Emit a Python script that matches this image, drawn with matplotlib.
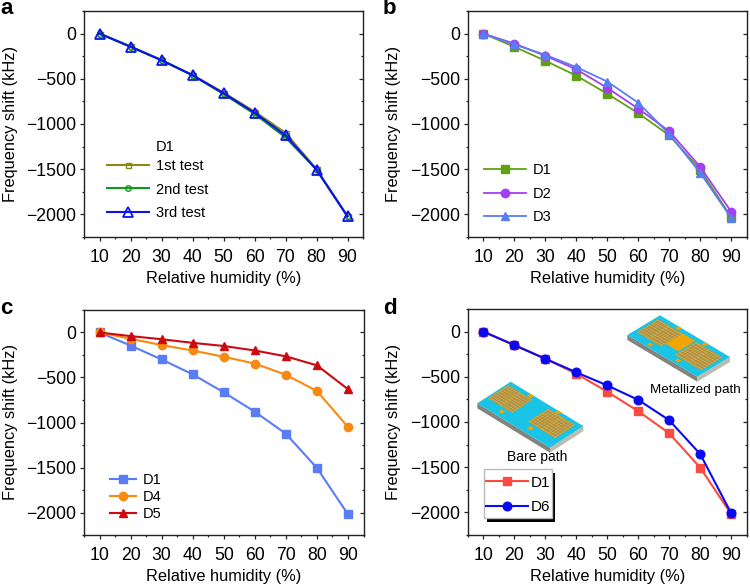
import matplotlib
matplotlib.use("Agg")
import matplotlib.pyplot as plt
from matplotlib.patches import Polygon, Rectangle
from matplotlib.ticker import MultipleLocator
import numpy as np

plt.rcParams["font.family"] = ["Liberation Sans", "DejaVu Sans"]
plt.rcParams["font.size"] = 11.8

W, H = 750, 585

humidity = [10, 20, 30, 40, 50, 60, 70, 80, 90]

a_test1 = [0, -142, -292, -458, -652, -862, -1098, -1500, -2022]
a_test2 = [0, -145, -295, -462, -668, -888, -1148, -1505, -2022]
a_test3 = [0, -145, -295, -460, -660, -875, -1125, -1505, -2022]

b_d1 = [0, -145, -300, -465, -665, -880, -1125, -1505, -2030]
b_d2 = [0, -110, -245, -395, -600, -830, -1080, -1475, -1970]
b_d3 = [0, -120, -235, -370, -530, -765, -1110, -1540, -2040]

c_d1 = [0, -145, -300, -465, -665, -880, -1125, -1505, -2020]
c_d4 = [0, -70, -140, -200, -270, -345, -470, -650, -1050]
c_d5 = [0, -40, -75, -115, -150, -200, -265, -365, -630]

d_d1 = [0, -145, -300, -465, -665, -880, -1125, -1505, -2020]
d_d6 = [0, -150, -300, -450, -595, -755, -980, -1355, -2010]


# axes box given in image pixels
def make_axes(fig, left, top, right, bottom):
    ax = fig.add_axes([left / W, 1 - bottom / H, (right - left) / W, (bottom - top) / H])
    ax.set_xlim(5, 95)
    ax.set_ylim(-2250, 250)
    ax.xaxis.set_major_locator(MultipleLocator(10))
    ax.xaxis.set_minor_locator(MultipleLocator(5))
    ax.yaxis.set_minor_locator(MultipleLocator(250))
    ax.set_yticks([0, -500, -1000, -1500, -2000])
    ax.set_yticklabels(["0", "\u2212500", "\u22121000", "\u22121500", "\u22122000"])
    ax.tick_params(axis="both", which="major", length=3, width=0.9, color="#222222", labelsize=12.7)
    ax.tick_params(axis="both", which="minor", length=1.6, width=0.9, color="#222222")
    ax.tick_params(axis="x", which="major", pad=6)
    ax.tick_params(axis="y", which="major", pad=2.4)
    ax.tick_params(axis="y", which="both", right=True, direction="out")
    # right side ticks point inwards
    for side in ax.yaxis.get_major_ticks() + ax.yaxis.get_minor_ticks():
        side.tick2line.set_marker(0)
    ax.set_xlabel("Relative humidity (%)", labelpad=3.3)
    ax.set_ylabel("Frequency shift (kHz)", labelpad=6.3)
    for s in ax.spines.values():
        s.set_linewidth(1.0)
        s.set_color("#222222")
    return ax


def legend(ax, anchor, hlen, spacing, fontsize=10.5, textpad=0.48):
    return ax.legend(loc="lower left", bbox_to_anchor=anchor, frameon=False, handlelength=hlen,
                     handletextpad=textpad, labelspacing=spacing, borderpad=0, borderaxespad=0,
                     fontsize=fontsize)


def to_fig(pts):
    pts = np.asarray(pts, dtype=float)
    return np.column_stack([pts[:, 0] / W, 1 - pts[:, 1] / H])


# chip drawing, origin is the left corner, lng and sht the edge vectors in pixels
def chip(fig, origin, lng, sht, meshes, tabs, pad=None):
    origin, lng, sht = map(lambda v: np.array(v, dtype=float), (origin, lng, sht))

    def p(u, v):
        return origin + u * lng + v * sht

    def poly(corners, color, z=5):
        fig.add_artist(Polygon(to_fig(corners), closed=True, facecolor=color, edgecolor="none",
                               zorder=z, transform=fig.transFigure))

    def seg(a, b):
        a, b = to_fig([a, b])
        fig.add_artist(plt.Line2D([a[0], b[0]], [a[1], b[1]], color="#8f8f6a", lw=0.45, zorder=7))

    th = np.array([0, 5.0])
    poly([p(0, 0), p(1, 0), p(1, 0) + th, p(0, 0) + th], "#84847c")
    poly([p(1, 0), p(1, 1), p(1, 1) + th, p(1, 0) + th], "#bcbcb0")
    poly([p(0, 0), p(1, 0), p(1, 1), p(0, 1)], "#19c4e6")

    for u0, u1, v0, v1 in meshes:
        poly([p(u0, v0), p(u1, v0), p(u1, v1), p(u0, v1)], "#e0a32c", z=6)
        for u in np.linspace(u0, u1, 7)[1:-1]:
            seg(p(u, v0), p(u, v1))
        for v in np.linspace(v0, v1, 9)[1:-1]:
            seg(p(u0, v), p(u1, v))
    for u, v in tabs:
        poly([p(u - 0.025, v - 0.05), p(u + 0.025, v - 0.05), p(u + 0.025, v + 0.05), p(u - 0.025, v + 0.05)],
             "#f2a500", z=6)
    if pad is not None:
        u0, u1, v0, v1 = pad
        poly([p(u0, v0), p(u1, v0), p(u1, v1), p(u0, v1)], "#f2a500", z=6)


fig = plt.figure(figsize=(7.5, 5.85), dpi=100)

ax_a = make_axes(fig, 84, 11, 363, 237)
ax_b = make_axes(fig, 467.7, 11, 746.7, 237)
ax_c = make_axes(fig, 84, 310, 363.5, 535)
ax_d = make_axes(fig, 467.7, 309, 746.7, 535)

# a
ax_a.plot(humidity, a_test1, "-s", color="#8c8a10", lw=1.5, ms=3.6, mfc="none", mew=1.0, label="1st test")
ax_a.plot(humidity, a_test2, "-o", color="#0f9a1e", lw=1.5, ms=4, mfc="none", mew=1.0, label="2nd test")
ax_a.plot(humidity, a_test3, "-^", color="#0c12f0", lw=1.5, ms=6.5, mfc="none", mew=1.3, label="3rd test")
legend(ax_a, (0.082, 0.075), 2.9, 0.65)
fig.text(156 / W, 1 - 147 / H, "D1", va="center", ha="left", fontsize=10.5)

# b
ax_b.plot(humidity, b_d1, "-s", color="#5fa112", lw=1.3, ms=5.2, label="D1")
ax_b.plot(humidity, b_d2, "-o", color="#a63df0", lw=1.3, ms=6, label="D2")
ax_b.plot(humidity, b_d3, "-^", color="#5a7cf5", lw=1.3, ms=6, label="D3")
legend(ax_b, (0.058, 0.057), 2.9, 0.65)

# c
ax_c.plot(humidity, c_d1, "-s", color="#5a7cf5", lw=1.5, ms=5.5, label="D1")
ax_c.plot(humidity, c_d4, "-o", color="#f98a10", lw=1.5, ms=6, label="D4")
ax_c.plot(humidity, c_d5, "-^", color="#cc0a10", lw=1.5, ms=6, label="D5")
legend(ax_c, (0.093, 0.061), 1.75, 0.2)

# d
ax_d.plot(humidity, d_d1, "-s", color="#fb4a40", lw=1.5, ms=5.5, label="D1")
ax_d.plot(humidity, d_d6, "-o", color="#0a0af0", lw=1.5, ms=6.2, label="D6")
# legend box with hard black shadow
ax_d.add_patch(Rectangle((11.3, -2106), 21.9, 542, facecolor="black", edgecolor="none", zorder=3))
ax_d.add_patch(Rectangle((10.3, -2062), 21.9, 542, facecolor="white", edgecolor="#bbbbbb", lw=1.0, zorder=4))
leg = legend(ax_d, (0.066, 0.091), 2.75, 0.7, fontsize=11, textpad=0.2)
leg.set_zorder(6)

chip(fig, (627.3, 335), (70, 41.7), (32.7, -19.7),
     [(0.035, 0.19, 0.22, 0.87), (0.19, 0.38, 0.22, 0.87), (0.58, 0.77, 0.22, 0.87), (0.77, 0.95, 0.22, 0.87)],
     [(0.28, 0.1), (0.285, 0.95), (0.67, 0.95), (0.67, 0.12)], pad=(0.38, 0.56, 0.36, 0.88))
chip(fig, (477.3, 403.3), (72.7, 44.4), (33.4, -21.6),
     [(0.02, 0.19, 0.28, 0.88), (0.19, 0.35, 0.28, 0.88), (0.56, 0.75, 0.3, 0.9), (0.75, 0.93, 0.3, 0.9)],
     [(0.265, 0.16), (0.295, 0.95), (0.67, 0.96), (0.65, 0.18)])
fig.text(650 / W, 1 - 390 / H, "Metallized path", va="center", ha="left", zorder=8, fontsize=9.7)
fig.text(507 / W, 1 - 457 / H, "Bare path", va="center", ha="left", zorder=8, fontsize=10)

# panel letters
for letter, x, y in [("a", 0, 9), ("b", 383, 9), ("c", 0, 309), ("d", 383, 309)]:
    fig.text(x / W, 1 - y / H, letter, fontsize=16, fontweight="bold", va="center", ha="left")

fig.savefig("out.png", dpi=100)
